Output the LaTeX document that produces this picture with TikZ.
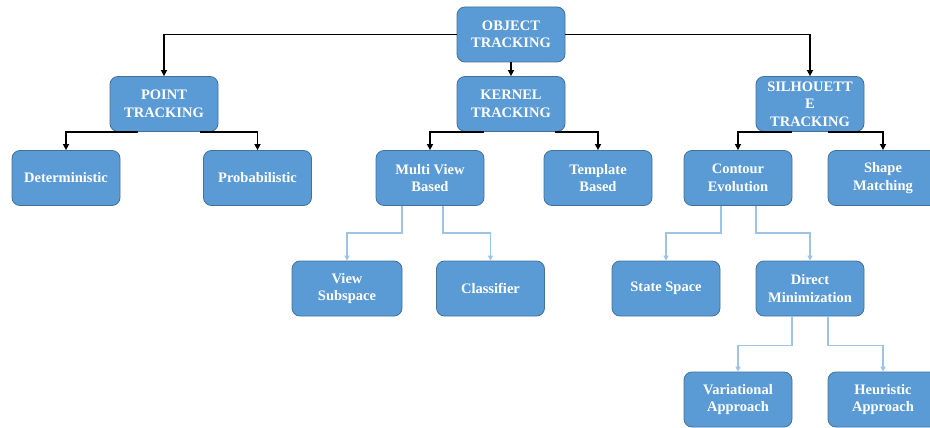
\documentclass[tikz,border=0pt]{standalone}
\usepackage{fontspec}
\setmainfont{Liberation Serif}
\usetikzlibrary{arrows.meta}
\definecolor{boxblue}{HTML}{5B9BD5}
\definecolor{boxedge}{HTML}{41719C}
\definecolor{linkblue}{HTML}{9DC3E6}
\tikzset{
  box/.style={rectangle, rounded corners=8pt, fill=boxblue, draw=boxedge, line width=0.8pt,
    minimum width=108pt, minimum height=55pt, text=white, align=center,
    font=\fontsize{14.5}{17.5}\selectfont\bfseries, inner sep=2pt},
  main/.style={draw=black, line width=1.5pt, -{Triangle[length=6pt,width=6pt]}},
  sub/.style={draw=linkblue, line width=1.2pt, -{Triangle[length=5pt,width=5pt]}}
}
\begin{document}
\begin{tikzpicture}[x=1pt, y=-1pt]
\useasboundingbox (0,0) rectangle (930,428);

% top levels
\node[box] (obj)    at (511,34.5) {OBJECT\\TRACKING};
\node[box] (point)  at (164,104)  {POINT\\TRACKING};
\node[box] (kernel) at (511,104)  {KERNEL\\TRACKING};
\node[box] (sil)    at (810,104)  {SILHOUETT\\E\\TRACKING};

% second level
\node[box] (det)     at (66,178)   {Deterministic};
\node[box] (prob)    at (257.5,178) {Probabilistic};
\node[box] (multi)   at (430,178)  {Multi View\\Based};
\node[box] (templ)   at (598,178)  {Template\\Based};
\node[box] (contour) at (738,178)  {Contour\\Evolution};
\node[box, minimum width=110pt] (shape) at (883,178) {Shape\\Matching};

% third level
\node[box, minimum width=110pt] (view)  at (347,288.5) {View\\Subspace};
\node[box] (class)  at (490.5,288.5) {Classifier};
\node[box] (state)  at (666,288.5)   {State Space};
\node[box] (direct) at (810,288.5)   {Direct\\Minimization};

% fourth level
\node[box] (var)  at (738,399.5) {Variational\\Approach};
\node[box, minimum width=110pt] (heur) at (883,399.5) {Heuristic\\Approach};

% black connectors
\draw[main] (obj.west) -| (point.north);
\draw[main] (obj.south) -- (kernel.north);
\draw[main] (obj.east) -| (sil.north);
\draw[main] ([xshift=-26pt]point.south) -| (det.north);
\draw[main] ([xshift=36pt]point.south) -| (prob.north);
\draw[main] ([xshift=-27pt]kernel.south) -| (multi.north);
\draw[main] ([xshift=44pt]kernel.south) -| (templ.north);
\draw[main] ([xshift=-18pt]sil.south) -| (contour.north);
\draw[main] ([xshift=18pt]sil.south) -| (shape.north);

% light connectors
\draw[sub] ([xshift=-28pt]multi.south) -- ++(0,27) -| (view.north);
\draw[sub] ([xshift=13pt]multi.south) -- ++(0,27) -| (class.north);
\draw[sub] ([xshift=-17pt]contour.south) -- ++(0,27) -| (state.north);
\draw[sub] ([xshift=18pt]contour.south) -- ++(0,27) -| (direct.north);
\draw[sub] ([xshift=-18pt]direct.south) -- ++(0,29) -| (var.north);
\draw[sub] ([xshift=18pt]direct.south) -- ++(0,29) -| (heur.north);
\end{tikzpicture}
\end{document}
